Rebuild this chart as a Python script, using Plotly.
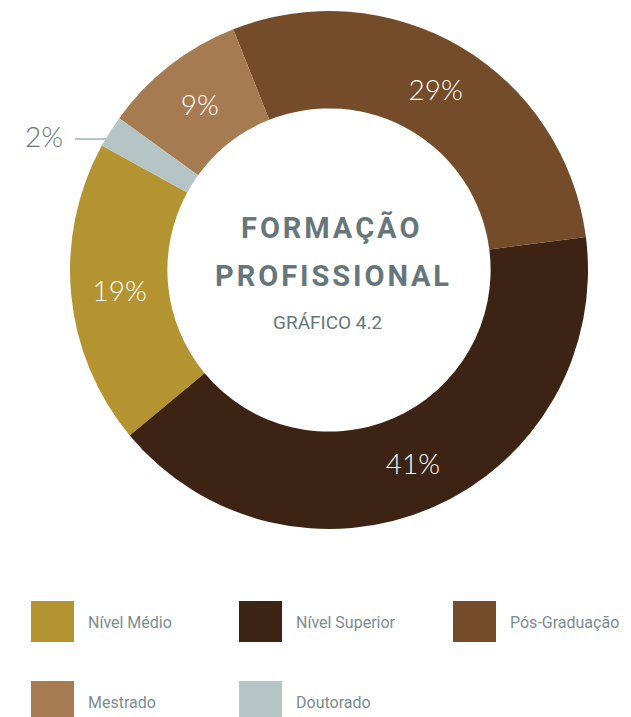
import plotly.graph_objects as go

categories = ["Nível Médio", "Nível Superior", "Pós-Graduação", "Mestrado", "Doutorado"]
values = [19, 41, 29, 9, 2]
colors = ["#B39430", "#3D2314", "#744C29", "#A67B52", "#B5C4C5"]
title_lines = ["FORMAÇÃO", "PROFISSIONAL"]
subtitle = "GRÁFICO 4.2"

OFF = 8  # page body margin in the browser
W, H = 631 - OFF, 717 - OFF  # fit the figure inside the window (no scrollbars)
TEXT_GRAY = "#66777B"
LEG_GRAY = "#7C8B8E"


def px(x):
    return (x - OFF) / W


def py(y):
    return 1 - (y - OFF) / H


def spaced(s, sep="\u200a"):
    return sep.join(list(s))


fig = go.Figure()
fig.add_trace(go.Pie(
    labels=categories,
    values=values,
    marker=dict(colors=colors, line=dict(width=0)),
    hole=0.624,
    sort=False,
    direction="counterclockwise",
    rotation=-129.7,
    texttemplate="%{value}%",
    textposition=["inside", "inside", "inside", "inside", "none"],
    insidetextorientation="horizontal",
    insidetextfont=dict(color="white", size=28, family="Lato", weight=300),
    hoverinfo="label+percent",
    domain=dict(x=[px(70), px(588)], y=[py(529), py(11)]),
    showlegend=False,
))

annotations = []
shapes = []

# Center title
annotations.append(dict(text="<b>" + spaced(title_lines[0]) + "</b>", x=px(330), y=py(228),
                        xref="paper", yref="paper", showarrow=False,
                        font=dict(size=29, color=TEXT_GRAY, family="Roboto"),
                        xanchor="center", yanchor="middle"))
annotations.append(dict(text="<b>" + spaced(title_lines[1]) + "</b>", x=px(332), y=py(276),
                        xref="paper", yref="paper", showarrow=False,
                        font=dict(size=29, color=TEXT_GRAY, family="Roboto"),
                        xanchor="center", yanchor="middle"))
annotations.append(dict(text=subtitle, x=px(328), y=py(322),
                        xref="paper", yref="paper", showarrow=False,
                        font=dict(size=19, color=TEXT_GRAY, family="Roboto"),
                        xanchor="center", yanchor="middle"))

# Outside label for the small slice
annotations.append(dict(text=f"{values[4]}%", x=px(44), y=py(136),
                        xref="paper", yref="paper", showarrow=False,
                        font=dict(size=28, color=TEXT_GRAY, family="Lato", weight=300),
                        xanchor="center", yanchor="middle"))
shapes.append(dict(type="line", xref="paper", yref="paper",
                   x0=px(75), x1=px(108), y0=py(139), y1=py(139),
                   line=dict(color=colors[4], width=2)))

# Custom legend
col_x = [31, 239, 453]
row_y = [601, 681]
for i, (cat, col) in enumerate(zip(categories, colors)):
    r, c = divmod(i, 3)
    x0 = col_x[c]
    y0 = row_y[r]
    shapes.append(dict(type="rect", xref="paper", yref="paper",
                       x0=px(x0), x1=px(x0 + 43), y0=py(y0), y1=py(y0 + 41),
                       fillcolor=col, line=dict(width=0)))
    annotations.append(dict(text=cat, x=px(x0 + 55), y=py(y0 + 21),
                            xref="paper", yref="paper", showarrow=False,
                            font=dict(size=16, color=LEG_GRAY, family="Roboto"),
                            xanchor="left", yanchor="middle"))

fig.update_layout(
    width=W, height=H,
    margin=dict(l=0, r=0, t=0, b=0),
    paper_bgcolor="white",
    plot_bgcolor="white",
    annotations=annotations,
    shapes=shapes,
)

fig.write_html("out.html")
